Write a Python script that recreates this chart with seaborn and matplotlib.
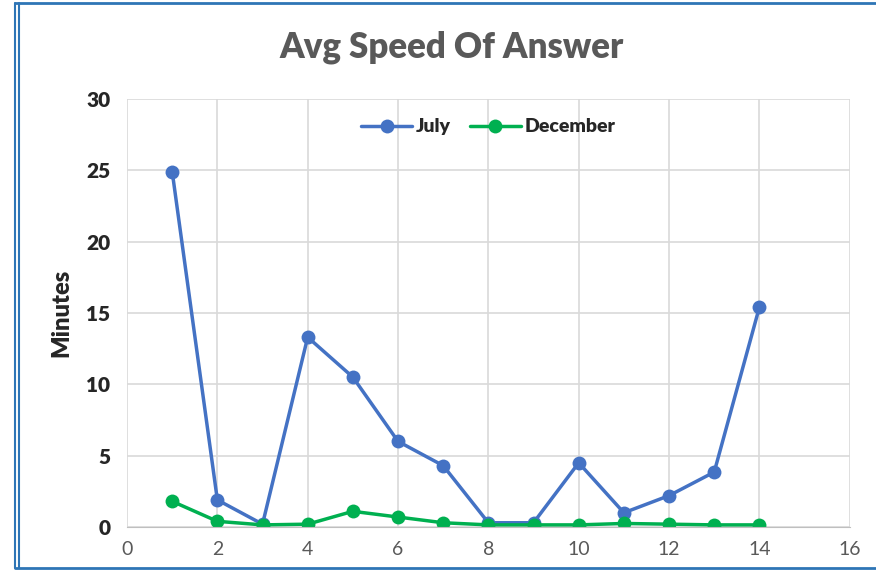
import matplotlib
matplotlib.use("Agg")
import matplotlib.pyplot as plt
import seaborn as sns
import pandas as pd
from matplotlib.lines import Line2D

# data
x_vals = [1, 2, 3, 4, 5, 6, 7, 8, 9, 10, 11, 12, 13, 14]
july = [24.9, 1.9, 0.2, 13.3, 10.5, 6.0, 4.3, 0.3, 0.3, 4.5, 1.0, 2.2, 3.85, 15.4]
december = [1.8, 0.4, 0.15, 0.2, 1.1, 0.7, 0.3, 0.15, 0.15, 0.15, 0.25, 0.2, 0.15, 0.15]
series_names = ["July", "December"]
series_colors = ["#4472C4", "#00B050"]

df = pd.DataFrame({
    "x": x_vals * 2,
    "minutes": july + december,
    "series": [series_names[0]] * len(x_vals) + [series_names[1]] * len(x_vals),
})

sns.set_style("white")
plt.rcParams["font.family"] = ["Lato", "DejaVu Sans"]

fig = plt.figure(figsize=(8.76, 5.71), dpi=100)
ax = fig.add_axes([0.145, 0.077, 0.825, 0.750])

sns.lineplot(
    data=df,
    x="x",
    y="minutes",
    hue="series",
    palette=dict(zip(series_names, series_colors)),
    marker="o",
    markersize=10,
    markeredgewidth=0,
    linewidth=2.5,
    ax=ax,
)

ax.set_xlim(0, 16)
ax.set_ylim(0, 30)
ax.set_xticks(range(0, 17, 2))
ax.set_yticks(range(0, 31, 5))
ax.grid(True, color="#d9d9d9", linewidth=1.2)
ax.set_axisbelow(True)
for side in ["top", "right", "left"]:
    ax.spines[side].set_visible(False)
ax.spines["bottom"].set_color("#bfbfbf")
ax.tick_params(axis="x", colors="#595959", labelsize=14, length=0, pad=10)
ax.tick_params(axis="y", labelsize=15, length=0, pad=12)
for lbl in ax.get_yticklabels():
    lbl.set_fontweight("heavy")

ax.set_xlabel("")
ax.set_ylabel("Minutes", fontsize=17, fontweight="heavy", labelpad=10)

leg = ax.legend(
    loc="upper center",
    bbox_to_anchor=(0.50, 0.995),
    ncol=2,
    frameon=False,
    fontsize=14,
    handlelength=2.6,
    columnspacing=1.0,
    handletextpad=0.2,
)
for t in leg.get_texts():
    t.set_fontweight("heavy")

fig.text(0.515, 0.918, "Avg Speed Of Answer", ha="center", va="center",
         fontsize=25, fontweight="heavy", color="#595959")

# blue chart border: top, bottom and a double line on the left
border = "#2E75B6"
fig.add_artist(Line2D([0.017, 1.0], [0.994, 0.994], color=border, linewidth=2))
fig.add_artist(Line2D([0.017, 1.0], [0.006, 0.006], color=border, linewidth=2))
fig.add_artist(Line2D([0.017, 0.017], [0.006, 0.994], color=border, linewidth=1.5))
fig.add_artist(Line2D([0.022, 0.022], [0.006, 0.994], color=border, linewidth=1.5))

fig.savefig("out.png", dpi=100)
